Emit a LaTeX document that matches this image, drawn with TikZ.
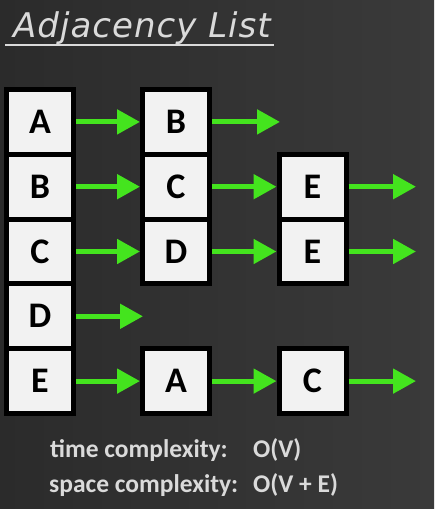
\documentclass[tikz,border=0pt]{standalone}
\usepackage{fontspec}
\setmainfont{Carlito}
\newfontfamily\chalkfont[LetterSpace=3]{DejaVu Sans}
\usepackage{xcolor}
\definecolor{boardDark}{HTML}{2B2B2B}
\definecolor{boardLight}{HTML}{3A3A3A}
\definecolor{chalk}{HTML}{DADADA}
\definecolor{linkGreen}{HTML}{44E41E}
\definecolor{cellWhite}{HTML}{F2F2F2}
\usetikzlibrary{arrows.meta}

\begin{document}
\begin{tikzpicture}[x=1pt, y=-1pt,
  cell/.style={draw=black, fill=cellWhite, line width=5pt, minimum width=67pt,
    minimum height=64.8pt, inner sep=0pt, font=\fontsize{36}{36}\selectfont\bfseries},
  link/.style={draw=linkGreen, line width=5pt, -{Triangle[length=23pt, width=24pt]}},
  note/.style={anchor=base west, inner sep=0pt, text=chalk, font=\fontsize{25.5}{25.5}\selectfont\bfseries}]
  % board
  \shade[left color=boardDark, right color=boardLight] (0,0) rectangle (434,509);
  \useasboundingbox (0,0) rectangle (434,509);
  % title
  \node[anchor=base west, inner sep=0pt, text=chalk, font=\chalkfont\itshape\fontsize{34}{34}\selectfont] (title) at (13,37) {Adjacency List};
  \draw[chalk, line width=1.2pt] (5,45) -- (274,45);
  % head column
  \node[cell] (headA) at (40,121.9) {A};
  \node[cell] (headB) at (40,186.7) {B};
  \node[cell] (headC) at (40,251.5) {C};
  \node[cell] (headD) at (40,316.3) {D};
  \node[cell] (headE) at (40,381.1) {E};
  % neighbours
  \node[cell] (nA1) at (176,121.9) {B};
  \node[cell] (nB1) at (176,186.7) {C};
  \node[cell] (nC1) at (176,251.5) {D};
  \node[cell] (nE1) at (176,381.1) {A};
  \node[cell] (nB2) at (312.5,186.7) {E};
  \node[cell] (nC2) at (312.5,251.5) {E};
  \node[cell] (nE2) at (312.5,381.1) {C};
  % open ends
  \coordinate (endA) at (280,121.9);
  \coordinate (endB) at (416,186.7);
  \coordinate (endC) at (416,251.5);
  \coordinate (endD) at (143,316.3);
  \coordinate (endE) at (416,381.1);
  % links
  \draw[link] (headA) -- (nA1);  \draw[link] (nA1) -- (endA);
  \draw[link] (headB) -- (nB1);  \draw[link] (nB1) -- (nB2);  \draw[link] (nB2) -- (endB);
  \draw[link] (headC) -- (nC1);  \draw[link] (nC1) -- (nC2);  \draw[link] (nC2) -- (endC);
  \draw[link] (headD) -- (endD);
  \draw[link] (headE) -- (nE1);  \draw[link] (nE1) -- (nE2);  \draw[link] (nE2) -- (endE);
  % complexity
  \node[note] (timeLbl) at (50,457) {time complexity:};
  \node[note] (timeVal) at (253,457) {O(V)};
  \node[note] (spaceLbl) at (49,492) {space complexity:};
  \node[note] (spaceVal) at (253,492) {O(V + E)};
\end{tikzpicture}
\end{document}
